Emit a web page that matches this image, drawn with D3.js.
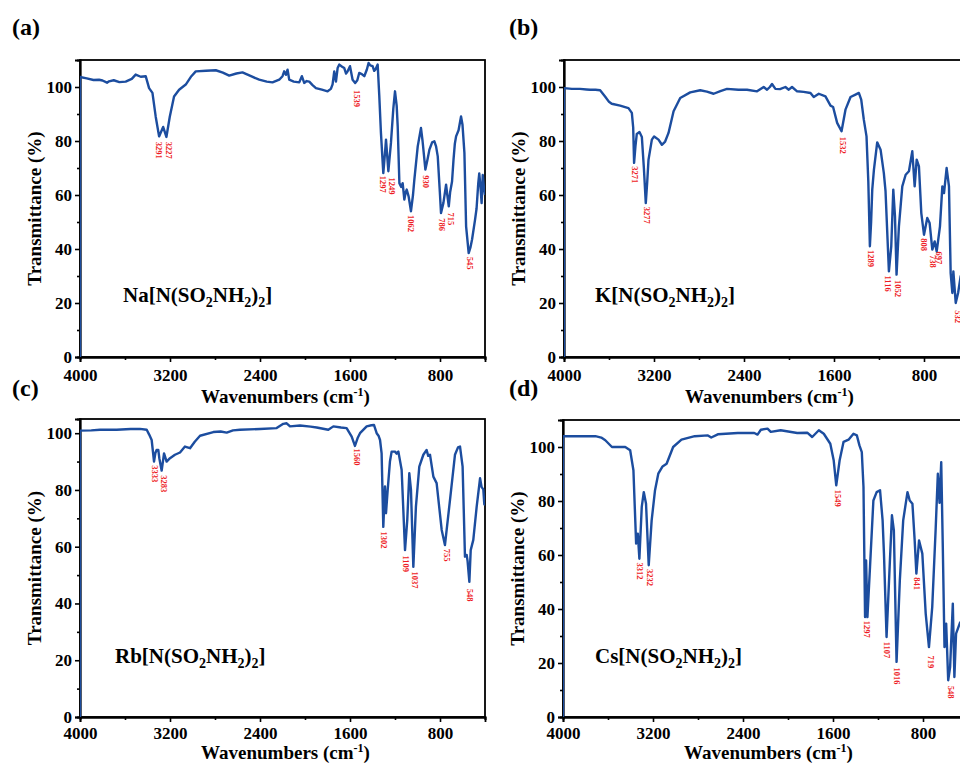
<!DOCTYPE html>
<html>
<head>
<meta charset="utf-8">
<script src="https://cdn.jsdelivr.net/npm/d3@7"></script>
<style>
  html, body { margin: 0; padding: 0; background: #fff; overflow: hidden; }
  svg { display: block; }
  text { font-family: "Liberation Serif", "Times New Roman", serif; }
</style>
</head>
<body>
<svg id="chart" width="980" height="765"></svg>
<script>
// ---------------- DATA ----------------
const xTicksMajor = [4000, 3200, 2400, 1600, 800];
const xTicksMinor = [3600, 2800, 2000, 1200, 400];
const yTicksMajor = [0, 20, 40, 60, 80, 100];
const yTicksMinor = [10, 30, 50, 70, 90];

// [wavenumber (cm-1), transmittance (%)]
const naSpectrum = [[4000,0],[4000,103.7],[3940,103.2],[3880,102.6],[3831,102.7],[3800,102.4],[3760,101.6],[3742,102.1],[3700,102.5],[3650,101.8],[3594,102],[3540,103],[3505,104.6],[3460,103.8],[3416,104],[3386,99.6],[3356,97.8],[3327,89],[3297,81.7],[3261,85.2],[3232,81.5],[3202,89],[3164,96.5],[3119,99],[3060,100.9],[3010,104],[2971,105.8],[2880,106],[2793,106.2],[2730,105.3],[2674,104.2],[2610,105],[2556,105.4],[2480,104],[2407,102.7],[2340,102],[2289,101.7],[2229,102.7],[2200,104],[2185,105.8],[2170,104.5],[2155,106.4],[2140,102.7],[2100,102],[2051,101.7],[2028,104],[2007,101.5],[1985,102.2],[1962,102],[1935,100.8],[1903,99.6],[1850,99],[1799,98.4],[1770,99.3],[1755,101],[1740,105.8],[1725,102],[1710,107],[1695,108.3],[1670,107.5],[1651,107],[1635,105],[1621,105.8],[1600,107.7],[1577,102.7],[1554,101.5],[1535,102.5],[1518,105.2],[1495,104.8],[1473,104],[1450,106.5],[1435,108.9],[1420,108],[1399,107.7],[1385,106],[1375,106.4],[1354,108.3],[1340,97],[1325,83],[1304,68.1],[1290,75],[1280,80.5],[1259,68.8],[1236,79.3],[1215,92],[1200,98.4],[1185,93],[1176,85.4],[1165,70],[1161,64.4],[1145,63],[1132,64.4],[1117,58.3],[1105,61],[1096,62],[1079,59.5],[1058,54],[1040,60],[1028,65.7],[998,78],[969,84.8],[955,80],[930,69.4],[912,73],[894,76.8],[870,79.5],[850,79.9],[835,78],[820,74.3],[800,60],[791,53.3],[770,57],[746,63.8],[735,60],[722,55.8],[710,61],[693,65],[680,73],[668,79],[657,81.7],[635,84],[613,89.1],[600,86],[583,75.6],[568,48.4],[545,38.5],[530,40.5],[515,43.5],[489,50.7],[475,55],[460,64.3],[451,68],[440,63],[430,57],[420,67.4],[410,63],[400,60]];

const kSpectrum = [[4000,0],[4000,99.6],[3930,99.3],[3858,99.3],[3800,99.1],[3768,99],[3720,99],[3679,98.8],[3635,96.5],[3600,94.5],[3576,93.8],[3501,93.1],[3427,92.2],[3397,90.4],[3385,85],[3377,71.9],[3365,78],[3353,82.6],[3329,83.3],[3308,81.5],[3290,70],[3273,57],[3260,65],[3249,73],[3219,80.5],[3199,81.7],[3160,80.5],[3130,78.6],[3101,79.8],[3071,83],[3026,91],[2967,95.9],[2878,98],[2789,98.8],[2730,98.3],[2670,97.5],[2610,98.5],[2551,99.3],[2450,99],[2373,99],[2284,98.4],[2225,100],[2195,99],[2170,100],[2151,101.1],[2121,99.3],[2080,99.2],[2032,100],[2002,99],[1973,100],[1928,98.4],[1870,98.2],[1809,97.8],[1780,96.3],[1735,97.5],[1676,96.5],[1631,93.1],[1608,92.6],[1572,86.7],[1533,83.6],[1498,91.6],[1453,96.3],[1409,97.2],[1379,97.8],[1358,95.3],[1335,87.9],[1311,81.7],[1295,65],[1281,41],[1270,50],[1260,62],[1245,69.4],[1216,79.5],[1186,76.8],[1157,68.1],[1142,61.4],[1112,31.7],[1091,41],[1073,62],[1058,52.1],[1044,30.5],[1023,48.4],[993,63.2],[963,67.5],[934,68.8],[904,76.2],[883,63.2],[865,73.1],[845,70.6],[824,53.3],[800,45.3],[771,51.5],[750,49.6],[726,39.8],[705,42.8],[687,39.1],[658,48.4],[637,63.2],[622,60.7],[599,70],[578,63.2],[563,31.1],[548,23.7],[539,31.7],[518,20],[497,23.7],[474,29.9],[440,32],[400,30]];

const rbSpectrum = [[4000,0],[4000,100.9],[3900,101],[3822,101.2],[3674,101.2],[3550,101.5],[3467,101.5],[3407,101.2],[3385,99.5],[3363,97.6],[3342,90],[3330,93],[3319,94.1],[3304,94.1],[3295,91.2],[3274,86.8],[3253,92.9],[3230,90],[3200,91.2],[3156,92.4],[3111,93.2],[3067,95.3],[3045,95],[3022,94.7],[2980,97],[2933,99.1],[2815,100.4],[2750,100.6],[2696,100.2],[2640,101],[2578,101.2],[2400,101.5],[2252,101.8],[2193,103.3],[2163,103.5],[2133,102.4],[2044,102.7],[1950,102.3],[1896,102],[1793,101.2],[1748,102.4],[1680,102],[1630,101.8],[1585,98.8],[1556,95.5],[1530,98.5],[1511,100],[1452,102.4],[1410,102.8],[1387,102.9],[1363,100],[1345,99],[1333,97.6],[1319,92.9],[1304,67],[1289,81.2],[1280,71.8],[1265,80],[1245,90],[1230,93.5],[1200,93.5],[1185,92.8],[1170,93.5],[1141,87.1],[1111,58.8],[1091,69.4],[1073,85.9],[1058,80],[1037,52.9],[1014,74.1],[984,88.2],[948,92.4],[919,94.1],[905,92],[889,92.4],[859,84.7],[830,82.4],[785,65.9],[756,60.6],[711,76.5],[667,92.4],[640,95],[622,95.3],[599,88.2],[578,56.5],[563,57.1],[555,55],[539,47.6],[527,58.8],[504,62.4],[474,74.1],[444,84.1],[430,81],[415,80.2],[406,74.9],[400,75]];

const csSpectrum = [[4000,0],[4000,104],[3859,104],[3712,104],[3660,103.5],[3624,102.5],[3565,100],[3447,100],[3403,98.8],[3374,91.4],[3350,64.2],[3335,67.9],[3321,58.6],[3300,77.8],[3282,83.3],[3262,79],[3238,56.2],[3212,72.8],[3182,84],[3153,90.1],[3115,92.8],[3079,93.8],[3021,100],[2947,102.7],[2829,104],[2712,104.3],[2682,103.5],[2624,104.7],[2447,105.2],[2300,105.2],[2271,104.6],[2241,106.4],[2182,106.8],[2153,105.6],[2065,106.2],[1918,105.2],[1829,105.3],[1785,103.7],[1726,106.2],[1682,104.9],[1624,101.2],[1594,95.1],[1571,85.8],[1541,95.1],[1506,101.9],[1462,102.7],[1418,104.9],[1388,104.3],[1365,100.6],[1344,98.1],[1329,85.2],[1315,37],[1306,58],[1294,37],[1271,55.6],[1241,80.2],[1212,83.3],[1182,84],[1159,72.8],[1147,60.5],[1124,29.6],[1094,58],[1076,74.7],[1059,69.1],[1035,20.4],[1006,50.6],[976,72.8],[938,83.3],[918,80.2],[894,79],[874,65.4],[859,53.1],[835,65.4],[806,60.5],[776,38.3],[747,25.9],[718,40.7],[688,69.1],[668,90.1],[653,79.3],[638,94.4],[624,63],[609,25.9],[594,34.6],[576,13.6],[559,18.5],[535,42],[521,14.8],[506,30.9],[470,35],[400,30]];

// peak annotations: [label, wavenumber position, transmittance position]
const naPeaks = [["3291",3303,80.5],["3227",3214,80.5],["1539",1541,99.6],["1297",1310,67.9],["1249",1227,67.2],["1062",1058,53.3],["930",924,68.1],["786",785,52.1],["715",702,54.3],["545",539,37.9]];
const kPeaks = [["3271",3368,71.4],["3277",3264,56.4],["1532",1522,82.3],["1289",1275,40.4],["1116",1121,30.9],["1052",1032,29.3],["808",800,44.7],["738",726,38.5],["697",667,39.8],["532",503,18.1]];
const rbPeaks = [["3333",3339,89.4],["3283",3259,85.9],["1560",1541,95.3],["1302",1298,66.1],["1109",1102,57.6],["1037",1022,52],["755",741,60],["548",539,45.9]];
const csPeaks = [["3312",3315,58],["3232",3232,55.6],["1549",1559,84.9],["1297",1300,36.4],["1107",1118,28.6],["1016",1029,19.1],["841",853,52.5],["719",735,23.5],["548",550,12.3]];

const panelLetters = ["(a)", "(b)", "(c)", "(d)"];
const cations = ["Na", "K", "Rb", "Cs"];
const yMaxes = [110, 110, 105, 110];
const xTitle = "Wavenumbers (cm";
const yTitle = "Transmittance (%)";

// ---------------- LAYOUT ----------------
const panels = [
  {data: naSpectrum, peaks: naPeaks, left: 80, top: 60, bottom: 357, lx: 12, ly: 35, fx: 123, fy: 302, tdy: "0.88em", tt: 46},
  {data: kSpectrum,  peaks: kPeaks,  left: 564, top: 60, bottom: 357, lx: 509, ly: 35, fx: 595, fy: 302, tdy: "0.88em", tt: 46},
  {data: rbSpectrum, peaks: rbPeaks, left: 80, top: 419, bottom: 717, lx: 12, ly: 396, fx: 115, fy: 663, tdy: "0.78em", tt: 42},
  {data: csSpectrum, peaks: csPeaks, left: 563, top: 420, bottom: 717, lx: 509, ly: 396, fx: 595, fy: 663, tdy: "0.78em", tt: 42}
];
const plotW = 405;
const lineColor = "#1c4d9f";
const peakColor = "#ee1c25";

const svg = d3.select("#chart");

panels.forEach((p, i) => {
  const right = p.left + plotW;
  const x = d3.scaleLinear().domain([4000, 400]).range([p.left, right]);
  const y = d3.scaleLinear().domain([0, yMaxes[i]]).range([p.bottom, p.top]);
  const g = svg.append("g");

  const clipId = "clip" + i;
  g.append("clipPath").attr("id", clipId).append("rect")
    .attr("x", p.left).attr("y", p.top).attr("width", plotW).attr("height", p.bottom - p.top);

  // frame
  g.append("rect").attr("x", p.left).attr("y", p.top)
    .attr("width", plotW).attr("height", p.bottom - p.top)
    .attr("fill", "none").attr("stroke", "#000").attr("stroke-width", 1.8);

  // x axis
  const xAxis = d3.axisBottom(x).tickValues(xTicksMajor).tickSize(5).tickPadding(4).tickFormat(d3.format("d"));
  const xg = g.append("g").attr("transform", `translate(0,${p.bottom})`).call(xAxis);
  const xMin = d3.axisBottom(x).tickValues(xTicksMinor).tickSize(3).tickFormat("");
  const xmg = g.append("g").attr("transform", `translate(0,${p.bottom})`).call(xMin);
  // y axis
  const yAxis = d3.axisLeft(y).tickValues(yTicksMajor).tickSize(5).tickPadding(3).tickFormat(d3.format("d"));
  const yg = g.append("g").attr("transform", `translate(${p.left},0)`).call(yAxis);
  const yMin = d3.axisLeft(y).tickValues(yTicksMinor).tickSize(3).tickFormat("");
  const ymg = g.append("g").attr("transform", `translate(${p.left},0)`).call(yMin);

  [xg, xmg, yg, ymg].forEach(a => {
    a.select(".domain").attr("stroke", "#000").attr("stroke-width", 1.8);
    a.selectAll(".tick line").attr("stroke", "#000").attr("stroke-width", 1.6);
    a.selectAll(".tick text").attr("fill", "#000")
      .style("font-family", "'Liberation Serif', serif")
      .style("font-weight", "bold").style("font-size", "17px");
  });
  xg.selectAll(".tick text").attr("dy", p.tdy);

  // spectrum line
  g.append("path").datum(p.data)
    .attr("clip-path", `url(#${clipId})`)
    .attr("d", d3.line().x(d => x(d[0])).y(d => y(d[1])).curve(d3.curveLinear))
    .attr("fill", "none").attr("stroke", lineColor).attr("stroke-width", 2.4)
    .attr("stroke-linejoin", "round");

  // peak labels
  g.selectAll(".peak").data(p.peaks).enter().append("text")
    .attr("transform", d => `translate(${x(d[1])},${y(d[2]) + 2}) rotate(90)`)
    .attr("dy", "0.33em")
    .attr("fill", peakColor)
    .style("font-size", "8.5px").style("font-weight", "bold")
    .text(d => d[0]);

  // axis titles
  const xt = g.append("text")
    .attr("x", (p.left + right) / 2 + 3).attr("y", p.bottom + p.tt)
    .attr("text-anchor", "middle")
    .style("font-size", "19px").style("font-weight", "bold");
  xt.append("tspan").text(xTitle);
  xt.append("tspan").attr("dy", -7).style("font-size", "12px").text("-1");
  xt.append("tspan").attr("dy", 7).text(")");

  g.append("text")
    .attr("transform", `translate(${p.left - 39},${(p.top + p.bottom) / 2}) rotate(-90)`)
    .attr("text-anchor", "middle")
    .style("font-size", "19px").style("font-weight", "bold")
    .text(yTitle);

  // panel letter
  g.append("text").attr("x", p.lx).attr("y", p.ly)
    .style("font-size", "24px").style("font-weight", "bold")
    .text(panelLetters[i]);

  // compound formula
  const f = g.append("text").attr("x", p.fx).attr("y", p.fy)
    .style("font-size", "21px").style("font-weight", "bold");
  f.append("tspan").text(cations[i] + "[N(SO");
  f.append("tspan").attr("dy", 5).style("font-size", "14px").text("2");
  f.append("tspan").attr("dy", -5).text("NH");
  f.append("tspan").attr("dy", 5).style("font-size", "14px").text("2");
  f.append("tspan").attr("dy", -5).text(")");
  f.append("tspan").attr("dy", 5).style("font-size", "14px").text("2");
  f.append("tspan").attr("dy", -5).text("]");
});
</script>
</body>
</html>
